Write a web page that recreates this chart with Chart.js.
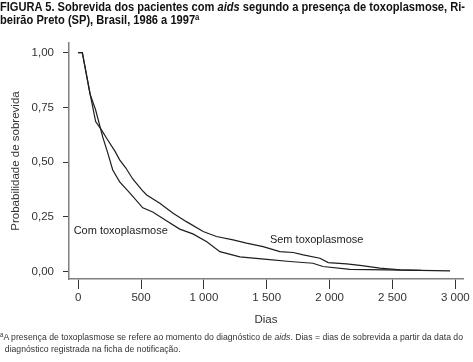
<!DOCTYPE html>
<html>
<head>
<meta charset="utf-8">
<script src="https://cdn.jsdelivr.net/npm/chart.js@4"></script>
<style>
  body { margin: 0; background: #fff; }
  #wrap { position: relative; width: 473px; height: 362px; overflow: hidden; }
  #chart { position: absolute; left: 0; top: 0; }
  .txt { position: absolute; left: 0; white-space: nowrap; transform-origin: 0 0; font-family: 'Liberation Sans', Arial, sans-serif; }
  #title { top: 1px; font-size: 12px; font-weight: bold; line-height: 12.5px; color: #111; }
  #foot { top: 332px; font-size: 9px; line-height: 11.5px; color: #333; }
  sup { font-size: 70%; vertical-align: 0; position: relative; top: -0.45em; }
</style>
</head>
<body>
<div id="wrap">
  <canvas id="chart" width="473" height="362"></canvas>
  <div id="title" class="txt"><span id="t1">FIGURA 5. Sobrevida dos pacientes com <i>aids</i> segundo a presença de toxoplasmose, Ri-</span><br>beirão Preto (SP), Brasil, 1986 a 1997<sup>a</sup></div>
  <div id="foot" class="txt"><span id="f1"><sup>a</sup>A presença de toxoplasmose se refere ao momento do diagnóstico de <i>aids</i>. Dias = dias de sobrevida a partir da data do</span><br>&nbsp;&nbsp;diagnóstico registrada na ficha de notificação.</div>
</div>
<script>
// Kaplan-Meier curves
const semDias = [0, 33, 95, 139, 185, 235, 291, 330, 378, 434, 506, 545, 649, 755, 861, 994, 1100, 1232, 1339, 1471, 1604, 1710, 1790, 1923, 1989, 2135, 2241, 2400, 2560, 2719, 2958];
const semProb = [1.0, 1.0, 0.81, 0.685, 0.647, 0.601, 0.551, 0.510, 0.474, 0.423, 0.373, 0.350, 0.312, 0.266, 0.228, 0.183, 0.160, 0.145, 0.130, 0.114, 0.091, 0.087, 0.076, 0.061, 0.041, 0.035, 0.028, 0.016, 0.008, 0.005, 0.003];

const comDias = [0, 33, 95, 139, 195, 235, 275, 330, 410, 514, 593, 705, 808, 912, 1023, 1127, 1286, 1501, 1684, 1867, 1947, 2162, 2727];
const comProb = [1.0, 1.0, 0.81, 0.738, 0.615, 0.542, 0.464, 0.410, 0.359, 0.291, 0.272, 0.231, 0.194, 0.172, 0.136, 0.091, 0.067, 0.056, 0.046, 0.038, 0.023, 0.010, 0.005];

const xTicks = [0, 500, 1000, 1500, 2000, 2500, 3000];
const xTickLabels = ['0', '500', '1 000', '1 500', '2 000', '2 500', '3 000'];
const yTicks = [0, 0.25, 0.5, 0.75, 1];
const yTickLabels = ['0,00', '0,25', '0,50', '0,75', '1,00'];

const curveLabels = [
    { text: 'Com toxoplasmose', x: -36, y: 0.186 },
    { text: 'Sem toxoplasmose', x: 1525, y: 0.143 }
];

function pts(xs, ys) {
    return xs.map((x, i) => ({ x: x, y: ys[i] }));
}

const labelPlugin = {
    id: 'curveLabels',
    afterDatasetsDraw(chart) {
        const ctx = chart.ctx;
        const xs = chart.scales.x, ys = chart.scales.y;
        ctx.save();
        ctx.font = "11px 'Liberation Sans', Arial, sans-serif";
        ctx.fillStyle = '#222';
        ctx.textBaseline = 'middle';
        curveLabels.forEach(l => {
            ctx.fillText(l.text, xs.getPixelForValue(l.x), ys.getPixelForValue(l.y));
        });
        ctx.restore();
    }
};

const font = { family: "'Liberation Sans', Arial, sans-serif", size: 11.5 };

new Chart(document.getElementById('chart'), {
    type: 'line',
    data: {
        datasets: [
            { label: 'Sem toxoplasmose', data: pts(semDias, semProb), borderColor: '#1e1e1e', borderWidth: 1.2, pointRadius: 0, tension: 0, fill: false },
            { label: 'Com toxoplasmose', data: pts(comDias, comProb), borderColor: '#1e1e1e', borderWidth: 1.2, pointRadius: 0, tension: 0, fill: false }
        ]
    },
    options: {
        responsive: false,
        animation: false,
        events: [],
        layout: { padding: { left: 0, top: 43, right: 10, bottom: 35 } },
        plugins: { legend: { display: false }, tooltip: { enabled: false } },
        scales: {
            x: {
                type: 'linear',
                min: -73,
                max: 3061,
                afterBuildTicks: s => { s.ticks = xTicks.map(v => ({ value: v })); },
                afterFit: s => { s.height = 48; },
                ticks: { callback: (v, i) => xTickLabels[i], color: '#333', font: font, padding: 2, maxRotation: 0 },
                grid: { drawOnChartArea: false, drawTicks: true, tickLength: 10, tickColor: '#333', tickWidth: 1 },
                border: { color: '#808080', width: 1.5 },
                title: { display: true, text: 'Dias', color: '#333', font: font, padding: 0 }
            },
            y: {
                type: 'linear',
                min: -0.034,
                max: 1.044,
                afterBuildTicks: s => { s.ticks = yTicks.map(v => ({ value: v })); },
                afterFit: s => { s.width = 69; },
                ticks: { callback: (v, i) => yTickLabels[i], color: '#333', font: font, padding: 9 },
                grid: { drawOnChartArea: false, drawTicks: true, tickLength: 6, tickColor: '#333', tickWidth: 1 },
                border: { color: '#808080', width: 1.5 },
                title: { display: true, text: 'Probabilidade de sobrevida', color: '#333', font: font, padding: { top: 9, bottom: 0 } }
            }
        }
    },
    plugins: [labelPlugin]
});

// squeeze the condensed heading and footnote to their widths in the figure
function fit(boxId, lineId, target) {
    const w = document.getElementById(lineId).getBoundingClientRect().width;
    document.getElementById(boxId).style.transform = 'scaleX(' + (target / w) + ')';
}
fit('title', 't1', 465);
fit('foot', 'f1', 463);
</script>
</body>
</html>
